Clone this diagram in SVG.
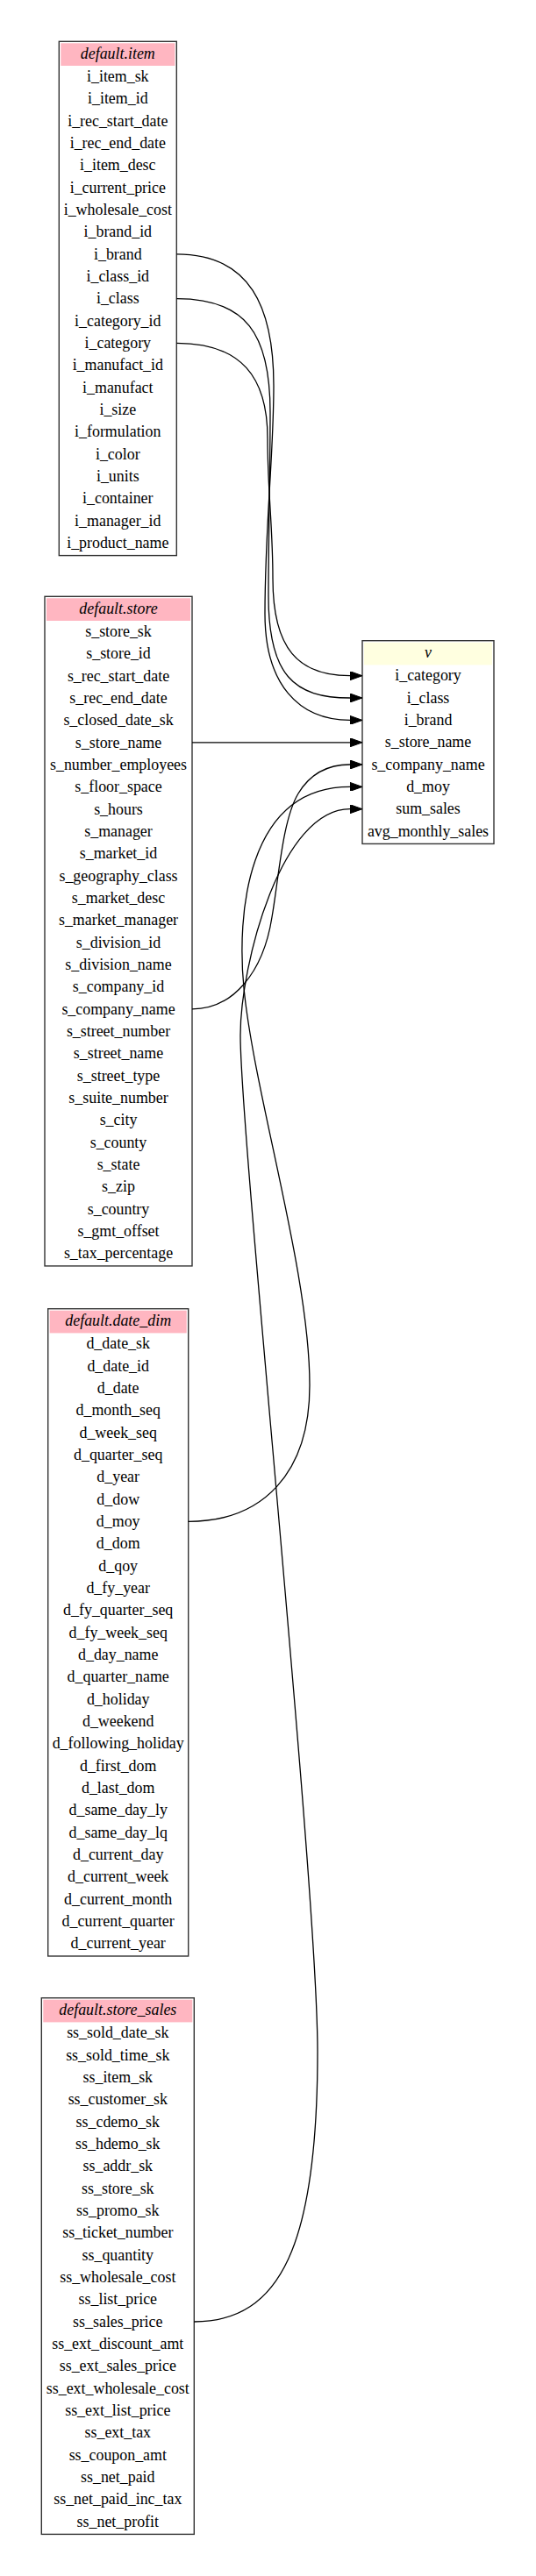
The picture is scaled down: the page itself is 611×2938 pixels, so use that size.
<svg xmlns="http://www.w3.org/2000/svg" width="611" height="2938" viewBox="0 0 611 2938">
<style>
text{font-family:"Liberation Serif","Times New Roman",serif;font-size:17.9px;fill:#000;text-anchor:middle}
.h{font-style:italic}
.box{fill:#fff;stroke:#333;stroke-width:1.4}
.pk{fill:#FFB6C1}
.yl{fill:#FFFFE0}
.e{fill:none;stroke:#000;stroke-width:1.3}
</style>
<defs>
<marker id="ah" markerWidth="14" markerHeight="10" refX="0" refY="5" orient="auto" markerUnits="userSpaceOnUse"><polygon points="0,0 14,5 0,10" fill="#000" stroke="#000" stroke-width="1"/></marker>
</defs>
<rect width="611" height="2938" fill="#fff"/>

<g id="item">
<rect class="box" x="67.3" y="47.3" width="134" height="586.3"/>
<rect class="pk" x="69.3" y="49.3" width="130" height="25.7"/>
<text class="h" x="134.3" y="66.8">default.item</text>
<text x="134.3" y="92.9">i_item_sk</text>
<text x="134.3" y="118.2">i_item_id</text>
<text x="134.3" y="143.6">i_rec_start_date</text>
<text x="134.3" y="168.9">i_rec_end_date</text>
<text x="134.3" y="194.2">i_item_desc</text>
<text x="134.3" y="219.6">i_current_price</text>
<text x="134.3" y="244.9">i_wholesale_cost</text>
<text x="134.3" y="270.2">i_brand_id</text>
<text x="134.3" y="295.5">i_brand</text>
<text x="134.3" y="320.9">i_class_id</text>
<text x="134.3" y="346.2">i_class</text>
<text x="134.3" y="371.5">i_category_id</text>
<text x="134.3" y="396.9">i_category</text>
<text x="134.3" y="422.2">i_manufact_id</text>
<text x="134.3" y="447.5">i_manufact</text>
<text x="134.3" y="472.9">i_size</text>
<text x="134.3" y="498.2">i_formulation</text>
<text x="134.3" y="523.5">i_color</text>
<text x="134.3" y="548.8">i_units</text>
<text x="134.3" y="574.2">i_container</text>
<text x="134.3" y="599.5">i_manager_id</text>
<text x="134.3" y="624.8">i_product_name</text>
</g>

<g id="store">
<rect class="box" x="51" y="680.3" width="168" height="763.6"/>
<rect class="pk" x="53" y="682.3" width="164" height="25.7"/>
<text class="h" x="135" y="699.8">default.store</text>
<text x="135" y="725.9">s_store_sk</text>
<text x="135" y="751.2">s_store_id</text>
<text x="135" y="776.6">s_rec_start_date</text>
<text x="135" y="801.9">s_rec_end_date</text>
<text x="135" y="827.2">s_closed_date_sk</text>
<text x="135" y="852.6">s_store_name</text>
<text x="135" y="877.9">s_number_employees</text>
<text x="135" y="903.2">s_floor_space</text>
<text x="135" y="928.5">s_hours</text>
<text x="135" y="953.9">s_manager</text>
<text x="135" y="979.2">s_market_id</text>
<text x="135" y="1004.5">s_geography_class</text>
<text x="135" y="1029.9">s_market_desc</text>
<text x="135" y="1055.2">s_market_manager</text>
<text x="135" y="1080.5">s_division_id</text>
<text x="135" y="1105.9">s_division_name</text>
<text x="135" y="1131.2">s_company_id</text>
<text x="135" y="1156.5">s_company_name</text>
<text x="135" y="1181.8">s_street_number</text>
<text x="135" y="1207.2">s_street_name</text>
<text x="135" y="1232.5">s_street_type</text>
<text x="135" y="1257.8">s_suite_number</text>
<text x="135" y="1283.2">s_city</text>
<text x="135" y="1308.5">s_county</text>
<text x="135" y="1333.8">s_state</text>
<text x="135" y="1359.2">s_zip</text>
<text x="135" y="1384.5">s_country</text>
<text x="135" y="1409.8">s_gmt_offset</text>
<text x="135" y="1435.1">s_tax_percentage</text>
</g>

<g id="date_dim">
<rect class="box" x="54.7" y="1492.7" width="160" height="738.3"/>
<rect class="pk" x="56.7" y="1494.7" width="156" height="25.7"/>
<text class="h" x="134.7" y="1512.2">default.date_dim</text>
<text x="134.7" y="1538.3">d_date_sk</text>
<text x="134.7" y="1563.6">d_date_id</text>
<text x="134.7" y="1589.0">d_date</text>
<text x="134.7" y="1614.3">d_month_seq</text>
<text x="134.7" y="1639.6">d_week_seq</text>
<text x="134.7" y="1665.0">d_quarter_seq</text>
<text x="134.7" y="1690.3">d_year</text>
<text x="134.7" y="1715.6">d_dow</text>
<text x="134.7" y="1740.9">d_moy</text>
<text x="134.7" y="1766.3">d_dom</text>
<text x="134.7" y="1791.6">d_qoy</text>
<text x="134.7" y="1816.9">d_fy_year</text>
<text x="134.7" y="1842.3">d_fy_quarter_seq</text>
<text x="134.7" y="1867.6">d_fy_week_seq</text>
<text x="134.7" y="1892.9">d_day_name</text>
<text x="134.7" y="1918.3">d_quarter_name</text>
<text x="134.7" y="1943.6">d_holiday</text>
<text x="134.7" y="1968.9">d_weekend</text>
<text x="134.7" y="1994.2">d_following_holiday</text>
<text x="134.7" y="2019.6">d_first_dom</text>
<text x="134.7" y="2044.9">d_last_dom</text>
<text x="134.7" y="2070.2">d_same_day_ly</text>
<text x="134.7" y="2095.6">d_same_day_lq</text>
<text x="134.7" y="2120.9">d_current_day</text>
<text x="134.7" y="2146.2">d_current_week</text>
<text x="134.7" y="2171.6">d_current_month</text>
<text x="134.7" y="2196.9">d_current_quarter</text>
<text x="134.7" y="2222.2">d_current_year</text>
</g>

<g id="store_sales">
<rect class="box" x="47.3" y="2278.7" width="174" height="611.7"/>
<rect class="pk" x="49.3" y="2280.7" width="170" height="25.7"/>
<text class="h" x="134.3" y="2298.2">default.store_sales</text>
<text x="134.3" y="2324.3">ss_sold_date_sk</text>
<text x="134.3" y="2349.6">ss_sold_time_sk</text>
<text x="134.3" y="2375.0">ss_item_sk</text>
<text x="134.3" y="2400.3">ss_customer_sk</text>
<text x="134.3" y="2425.6">ss_cdemo_sk</text>
<text x="134.3" y="2451.0">ss_hdemo_sk</text>
<text x="134.3" y="2476.3">ss_addr_sk</text>
<text x="134.3" y="2501.6">ss_store_sk</text>
<text x="134.3" y="2526.9">ss_promo_sk</text>
<text x="134.3" y="2552.3">ss_ticket_number</text>
<text x="134.3" y="2577.6">ss_quantity</text>
<text x="134.3" y="2602.9">ss_wholesale_cost</text>
<text x="134.3" y="2628.3">ss_list_price</text>
<text x="134.3" y="2653.6">ss_sales_price</text>
<text x="134.3" y="2678.9">ss_ext_discount_amt</text>
<text x="134.3" y="2704.3">ss_ext_sales_price</text>
<text x="134.3" y="2729.6">ss_ext_wholesale_cost</text>
<text x="134.3" y="2754.9">ss_ext_list_price</text>
<text x="134.3" y="2780.2">ss_ext_tax</text>
<text x="134.3" y="2805.6">ss_coupon_amt</text>
<text x="134.3" y="2830.9">ss_net_paid</text>
<text x="134.3" y="2856.2">ss_net_paid_inc_tax</text>
<text x="134.3" y="2881.6">ss_net_profit</text>
</g>

<g id="v">
<rect class="box" x="413" y="730.7" width="150" height="231.7"/>
<rect class="yl" x="415" y="732.7" width="146" height="25.7"/>
<text class="h" x="488" y="750.2">v</text>
<text x="488" y="776.3">i_category</text>
<text x="488" y="801.6">i_class</text>
<text x="488" y="827.0">i_brand</text>
<text x="488" y="852.3">s_store_name</text>
<text x="488" y="877.6">s_company_name</text>
<text x="488" y="903.0">d_moy</text>
<text x="488" y="928.3">sum_sales</text>
<text x="488" y="953.6">avg_monthly_sales</text>
</g>

<g id="edges">
<path class="e" marker-end="url(#ah)" d="M201.3,289.9 C285,289.9 312,350 312,440 C312,520 302,600 302,700 C302,780 340,821.4 399,821.4"/>
<path class="e" marker-end="url(#ah)" d="M201.3,340.6 C280,340.6 308,380 308,470 C308,540 306,610 306,680 C306,770 335,796 399,796"/>
<path class="e" marker-end="url(#ah)" d="M201.3,391.3 C275,391.3 305,430 305,500 C305,560 311,600 311,660 C311,740 340,770.7 399,770.7"/>
<path class="e" marker-end="url(#ah)" d="M219,846.8 L399,846.8"/>
<path class="e" marker-end="url(#ah)" d="M219,1150.9 C265,1150.9 300,1110 310,1046 C318,1000 322,935 340,905 C352,885 370,872 399,872"/>
<path class="e" marker-end="url(#ah)" d="M214.7,1735.3 C300,1735.3 353,1680 353,1580 C353,1450 290,1250 278,1127 C270,1045 280,897.4 399,897.4"/>
<path class="e" marker-end="url(#ah)" d="M221.3,2648 C320,2648 362,2560 362,2340 C362,2150 274,1300 274,1181 C274,1100 320,922.7 399,922.7"/>
</g>
</svg>
